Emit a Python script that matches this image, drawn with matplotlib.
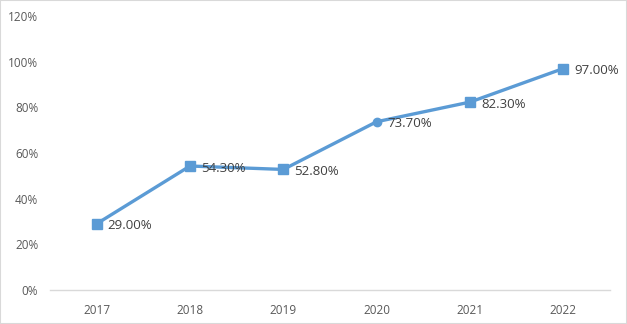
import matplotlib.pyplot as plt
from matplotlib.ticker import PercentFormatter

plt.rcParams['font.family'] = ['Open Sans', 'DejaVu Sans']

years = ['2017', '2018', '2019', '2020', '2021', '2022']
rates = [29.0, 54.3, 52.8, 73.7, 82.3, 97.0]
labels = ['29.00%', '54.30%', '52.80%', '73.70%', '82.30%', '97.00%']
markers = ['s', 's', 's', 'o', 's', 's']

line_color = '#5B9BD5'

fig = plt.figure(figsize=(6.27, 3.24), dpi=100)
ax = fig.add_axes([50 / 627, 1 - 290 / 324, 560 / 627, 274 / 324])

x = list(range(len(years)))
ax.plot(x, rates, color=line_color, linewidth=2.4, zorder=2)
for xi, yi, m in zip(x, rates, markers):
    ax.plot(xi, yi, marker=m, markersize=6.5 if m == 's' else 6,
            color=line_color, zorder=3)

for xi, yi, lab in zip(x, rates, labels):
    ax.annotate(lab, (xi, yi), xytext=(8, -1.5), textcoords='offset points',
                ha='left', va='center', fontsize=9.5, color='#404040')

ax.set_xlim(-0.5, len(years) - 0.5)
ax.set_ylim(0, 120)
ax.set_yticks(range(0, 121, 20))
ax.yaxis.set_major_formatter(PercentFormatter(decimals=0))
ax.set_xticks(x)
ax.set_xticklabels(years)

for side in ['top', 'right', 'left']:
    ax.spines[side].set_visible(False)
ax.spines['bottom'].set_color('#D9D9D9')
ax.spines['bottom'].set_linewidth(1)
ax.tick_params(axis='both', length=0, labelsize=8.5, colors='#595959')
ax.tick_params(axis='y', pad=8.5)
ax.tick_params(axis='x', pad=10)

# light frame around the whole figure
fig.patches.append(plt.Rectangle((0, 0), 1, 1, transform=fig.transFigure,
                                 fill=False, edgecolor='#D9D9D9', linewidth=1.5))

fig.savefig('out.png', dpi=100)
